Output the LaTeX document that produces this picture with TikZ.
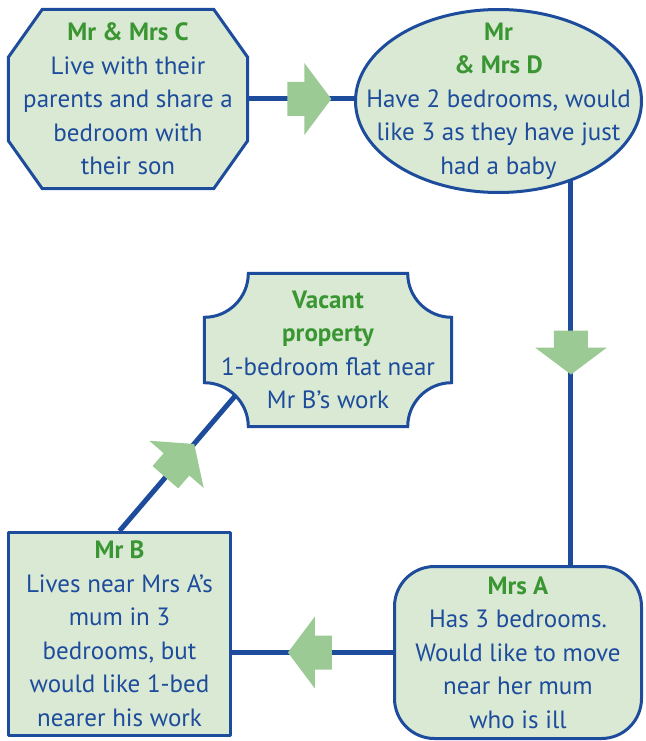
\documentclass[tikz,border=0pt]{standalone}
\usepackage{fontspec}
\setmainfont{PT Sans}
\usetikzlibrary{calc,shapes.geometric,backgrounds}
\definecolor{lineblue}{RGB}{30,76,156}
\definecolor{boxfill}{RGB}{217,233,211}
\definecolor{titlegreen}{RGB}{58,150,50}
\definecolor{arrowgreen}{RGB}{155,202,148}
\tikzset{
	family/.style={align=center, text=lineblue, inner sep=0pt,
		font=\fontsize{25}{33.5}\selectfont},
	outline/.style={draw=lineblue, line width=3pt, fill=boxfill},
	link/.style={draw=lineblue, line width=5pt},
	fatarrow/.pic={\fill[arrowgreen] (-22,-17)--(-5,-17)--(-5,-36)--(22,0)
		--(-5,36)--(-5,17)--(-22,17)--cycle;}
}
\newcommand{\who}[1]{{\bfseries\color{titlegreen}#1}\\}
\begin{document}
\begin{tikzpicture}[x=1pt, y=-1pt, line join=round]
	\useasboundingbox (0,0) rectangle (645,741);
	% the households
	\node[family, minimum width=239pt, minimum height=179pt] (famC) at (128,99)
	{\who{Mr \& Mrs C}Live with their\\parents and share a\\bedroom with\\their son};
	\node[family, outline, ellipse, minimum width=286pt, minimum height=183pt,
	inner xsep=-40pt, inner ysep=-20pt] (famD) at (498.5,101)
	{\who{Mr}\who{\& Mrs D}Have 2 bedrooms, would\\like 3 as they have just\\had a baby};
	\node[family, minimum width=247pt, minimum height=153pt] (vacant) at (328,350)
	{\who{Vacant}\who{property}1-bedroom flat near\\Mr B's work};
	\node[family, outline, minimum width=222pt, minimum height=203pt] (mrB) at (119.5,634)
	{\who{Mr B}Lives near Mrs A's\\mum in 3\\bedrooms, but\\would like 1-bed\\nearer his work};
	\node[family, outline, rounded corners=40pt, minimum width=247pt,
	minimum height=172pt] (mrsA) at (518,652.5)
	{\who{Mrs A}Has 3 bedrooms.\\Would like to move\\near her mum\\who is ill};
	\begin{scope}[on background layer]
		\draw[outline] ($(famC.north west)+(34,0)$) -- ($(famC.north east)+(-34,0)$)
		-- ($(famC.north east)+(0,48)$) -- ($(famC.south east)+(0,-48)$)
		-- ($(famC.south east)+(-34,0)$) -- ($(famC.south west)+(34,0)$)
		-- ($(famC.south west)+(0,-48)$) -- ($(famC.north west)+(0,48)$) -- cycle;
		\draw[outline] ($(vacant.north west)+(44,0)$) -- ($(vacant.north east)+(-44,0)$)
		arc[start angle=180, end angle=270, radius=44pt]
		-- ($(vacant.south east)+(0,-44)$)
		arc[start angle=90, end angle=180, radius=44pt]
		-- ($(vacant.south west)+(44,0)$)
		arc[start angle=0, end angle=90, radius=44pt]
		-- ($(vacant.north west)+(0,44)$)
		arc[start angle=270, end angle=360, radius=44pt] -- cycle;
	\end{scope}
	% the chain
	\draw[link] (famC.east) -- coordinate[pos=.58] (arCD) (famC.east -| famD.west);
	\draw[link] (famD.-48.6) -- coordinate[pos=.446] (arDA) (famD.-48.6 |- mrsA.north);
	\draw[link] (mrsA.west) -- coordinate[pos=.516] (arAB) (mrsA.west -| mrB.east);
	\draw[link] (mrB.north) -- coordinate[pos=.52] (arBV)
	($(vacant.south west)+(45:44pt)$);
	\foreach \a/\r in {arCD/0, arDA/-90, arAB/180, arBV/49}
	\pic[rotate=\r] at (\a) {fatarrow};
\end{tikzpicture}
\end{document}
